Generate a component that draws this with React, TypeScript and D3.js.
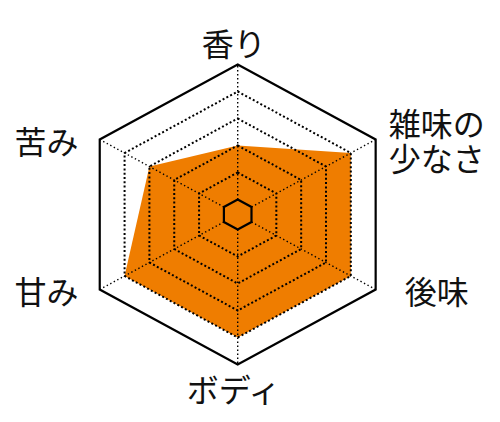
import React, { useEffect, useRef } from 'react';
import * as d3 from 'd3';

// axis labels, clockwise from the top
const axisLabels: string[][] = [['香り'], ['雑味の', '少なさ'], ['後味'], ['ボディ'], ['甘み'], ['苦み']];
// scores on a 0-5 scale, same order as the labels
const scores: number[] = [2, 4, 4, 4, 4, 3];
const levels: number[] = [0, 1, 2, 3, 4, 5];

const width = 500;
const height = 422;

const App: React.FC = () => {
  const svgRef = useRef<SVGSVGElement>(null);

  useEffect(() => {
    if (!svgRef.current) return;
    const svg = d3.select(svgRef.current);
    svg.selectAll('*').remove();

    const cx = 237.7;
    const cy = 214.5;
    const stretchX = 1.062; // the original hexagon is a little wider than regular

    const rScale = d3.scaleLinear().domain([0, 5]).range([15, 150]);
    const angle = d3.scaleLinear().domain([0, axisLabels.length]).range([0, 2 * Math.PI]);

    const pt = (i: number, v: number): [number, number] => {
      const a = angle(i);
      const r = rScale(v);
      return [cx + Math.sin(a) * r * stretchX, cy - Math.cos(a) * r];
    };

    const closed = d3.line().curve(d3.curveLinearClosed);
    const g = svg.append('g');

    // data area
    g.append('path')
      .attr('d', closed(scores.map((s, i) => pt(i, s))))
      .attr('fill', '#ef7d00')
      .attr('stroke', 'none');

    // spokes
    axisLabels.forEach((_, i) => {
      const [x0, y0] = pt(i, 0);
      const [x1, y1] = pt(i, 5);
      g.append('line')
        .attr('x1', x0).attr('y1', y0)
        .attr('x2', x1).attr('y2', y1)
        .attr('stroke', '#000')
        .attr('stroke-width', 1.4)
        .attr('stroke-dasharray', '1.4 2.6');
    });

    // rings
    levels.forEach(lv => {
      const solid = lv === 0 || lv === 5;
      g.append('path')
        .attr('d', closed(axisLabels.map((_, i) => pt(i, lv))))
        .attr('fill', 'none')
        .attr('stroke', '#000')
        .attr('stroke-width', solid ? 2.2 : 2)
        .attr('stroke-dasharray', solid ? null : '2 2.3');
    });

    // labels
    const labelG = svg.append('g')
      .style('font-family', '"Noto Sans CJK JP", "Noto Sans", sans-serif')
      .style('font-size', '32px')
      .attr('fill', '#111');

    const lineH = 35;
    axisLabels.forEach((lines, i) => {
      const a = angle(i);
      const [vx, vy] = pt(i, 5);
      const sin = Math.sin(a);
      const cos = Math.cos(a);
      let lx = vx + sin * 66 + 4;
      let ly = vy;
      if (Math.abs(cos) > 0.99) {
        lx = vx - 4;
        ly = vy - cos * 23;
      }
      lines.forEach((line, j) => {
        labelG.append('text')
          .attr('x', lx)
          .attr('y', ly + (j - (lines.length - 1) / 2) * lineH)
          .attr('text-anchor', 'middle')
          .attr('dominant-baseline', 'central')
          .text(line);
      });
    });
  }, []);

  return (
    <div style={{ position: 'absolute', left: 0, top: 0, width, height, background: '#fff' }}>
      <svg ref={svgRef} width={width} height={height} />
    </div>
  );
};

export default App;
